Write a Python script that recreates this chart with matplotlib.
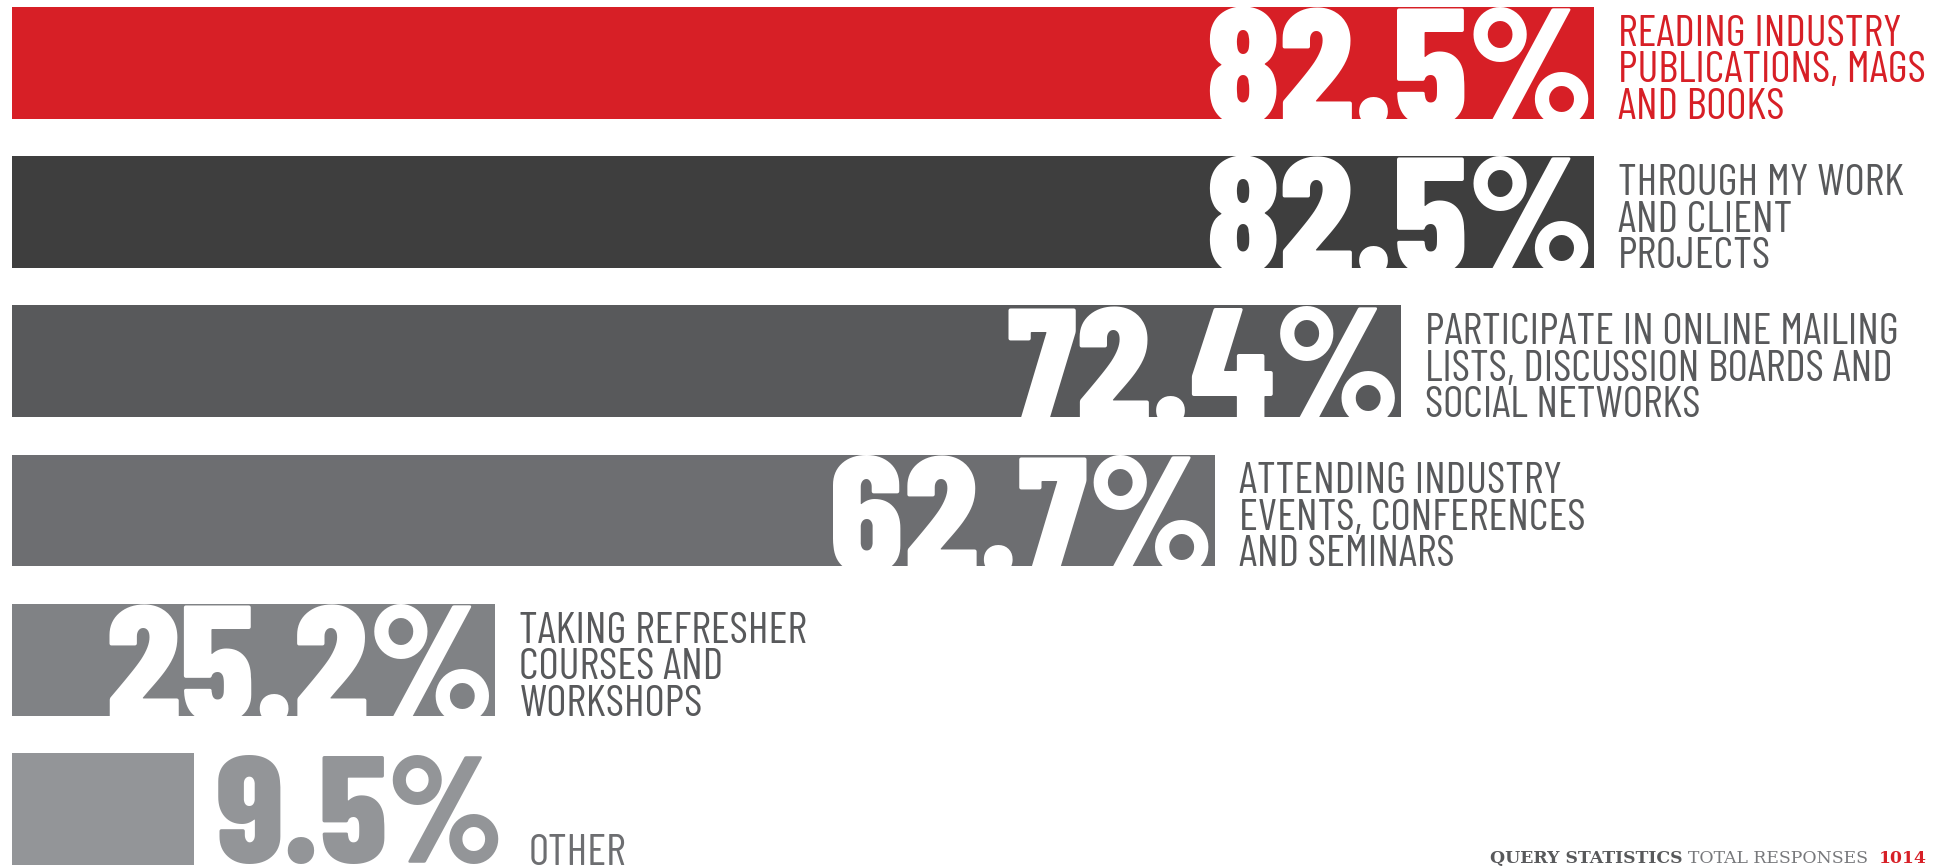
import matplotlib
matplotlib.use("Agg")
import matplotlib.pyplot as plt
from matplotlib.transforms import offset_copy

labels = [
    "READING INDUSTRY\nPUBLICATIONS, MAGS\nAND BOOKS",
    "THROUGH MY WORK\nAND CLIENT\nPROJECTS",
    "PARTICIPATE IN ONLINE MAILING\nLISTS, DISCUSSION BOARDS AND\nSOCIAL NETWORKS",
    "ATTENDING INDUSTRY\nEVENTS, CONFERENCES\nAND SEMINARS",
    "TAKING REFRESHER\nCOURSES AND\nWORKSHOPS",
    "OTHER",
]
values = [82.5, 82.5, 72.4, 62.7, 25.2, 9.5]
bar_colors = ["#d71f26", "#3e3e3e", "#58595b", "#6d6e71", "#808285", "#939598"]
label_colors = ["#d71f26", "#58595b", "#58595b", "#58595b", "#58595b", "#6d6e71"]
total_responses = 1014

W, H, DPI = 1956, 867, 100
fig = plt.figure(figsize=(W / DPI, H / DPI), dpi=DPI)
ax = fig.add_axes([0, 0, 1, 1])
ax.axis("off")

# 1 % of the scale = 19.18 px, bars start 12 px from the left edge
px_per_pct = 19.18
x0 = 12
ax.set_xlim(-x0 / px_per_pct, (W - x0) / px_per_pct)
pitch, c0 = 149.15, 63
ax.set_ylim((H - c0) / pitch, -c0 / pitch)

NUM_FONT = "Barlow Condensed"
LAB_FONT = "Barlow Condensed"
bar_h = 0.75
bar_h_px = bar_h * pitch

ypos = list(range(len(values)))
bars = ax.barh(ypos, values, height=bar_h, color=bar_colors, left=0)

fig.canvas.draw()
renderer = fig.canvas.get_renderer()
pt = 72 / DPI
num_px = 166
cap = 0.70

for i, (v, b) in enumerate(zip(values, bars)):
    top = i - bar_h / 2
    bottom = i + bar_h / 2
    # big white number, right aligned inside the bar and clipped to it
    tr = offset_copy(ax.transData, fig=fig, x=0, y=-(cap * num_px + 2), units="dots")
    t = ax.text(v, top, f"{v}%", transform=tr, ha="right", va="baseline",
                fontsize=num_px * pt, fontweight=800, family=NUM_FONT, color="white")
    bb = t.get_window_extent(renderer)
    if bb.width + 10 < v * px_per_pct:
        t.set_clip_path(b)
        lx = v
    else:
        # too short: number goes after the bar, in the bar colour
        small = 0.955 * bar_h_px / cap
        t.set_fontsize(small * pt)
        t.set_ha("left")
        t.set_color(bar_colors[i])
        t.set_position((v, bottom))
        t.set_transform(offset_copy(ax.transData, fig=fig, x=22, y=2, units="dots"))
        bb = t.get_window_extent(renderer)
        lx = ax.transData.inverted().transform((bb.x1, 0))[0]
    lines = labels[i].split("\n")
    for k, line in enumerate(reversed(lines)):
        ltr = offset_copy(ax.transData, fig=fig, x=24, y=36.5 * k, units="dots")
        ax.text(lx, bottom, line, transform=ltr, ha="left", va="baseline",
                fontsize=44 * pt, family=LAB_FONT, color=label_colors[i])

# footer, laid out right to left
fx, fy = 1927, H - 863
parts = [(str(total_responses), "#d71f26", "bold"),
         ("TOTAL RESPONSES  ", "#77787b", "normal"),
         ("QUERY STATISTICS ", "#58595b", "bold")]
for txt, col, wt in parts:
    t = fig.text(fx / W, fy / H, txt, ha="right", va="baseline", fontsize=17.3 * pt,
                 family="DejaVu Serif", fontweight=wt, color=col)
    fx -= t.get_window_extent(renderer).width

fig.savefig("out.png", dpi=DPI)
